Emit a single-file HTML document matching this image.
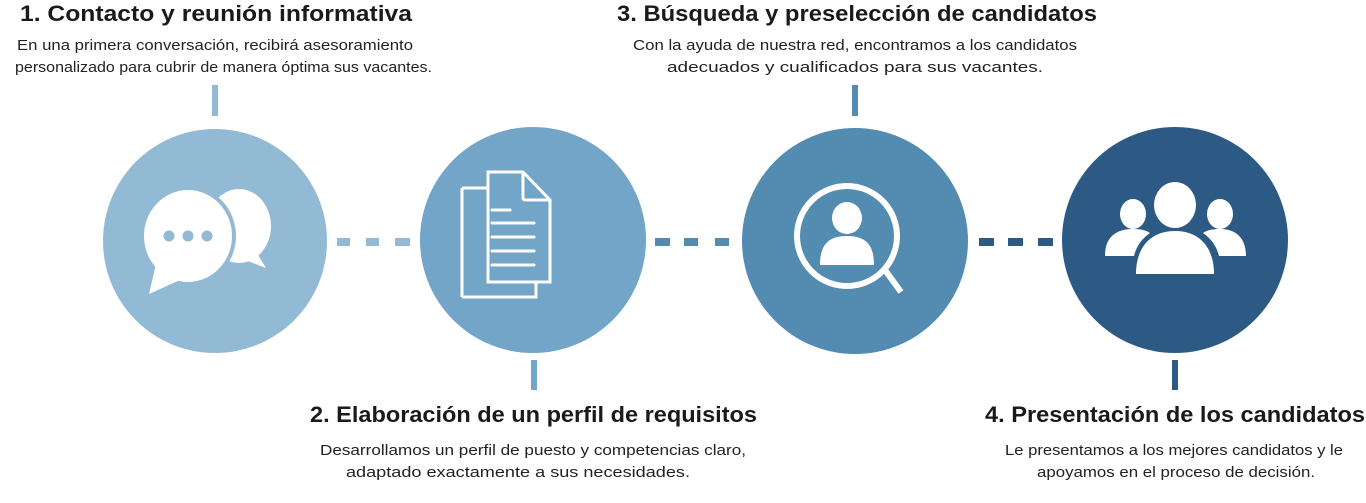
<!DOCTYPE html>
<html><head><meta charset="utf-8"><style>
html,body{margin:0;padding:0;background:#fff;width:1366px;height:503px;overflow:hidden}
svg{display:block}
.t{font-family:"Liberation Sans",sans-serif;font-weight:bold;font-size:22px;fill:#1a1a1a}
.d{font-family:"Liberation Sans",sans-serif;font-size:14.5px;fill:#222}
</style></head><body>
<svg width="1366" height="503" viewBox="0 0 1366 503" xmlns="http://www.w3.org/2000/svg">
<text class="t" x="20" y="21" textLength="392" lengthAdjust="spacingAndGlyphs">1. Contacto y reunión informativa</text>
<text class="d" x="17" y="50" textLength="396" lengthAdjust="spacingAndGlyphs">En una primera conversación, recibirá asesoramiento</text>
<text class="d" x="15" y="72" textLength="417" lengthAdjust="spacingAndGlyphs">personalizado para cubrir de manera óptima sus vacantes.</text>

<text class="t" x="617" y="21" textLength="480" lengthAdjust="spacingAndGlyphs">3. Búsqueda y preselección de candidatos</text>
<text class="d" x="633" y="50" textLength="444" lengthAdjust="spacingAndGlyphs">Con la ayuda de nuestra red, encontramos a los candidatos</text>
<text class="d" x="667" y="72" textLength="376" lengthAdjust="spacingAndGlyphs">adecuados y cualificados para sus vacantes.</text>

<text class="t" x="310" y="422" textLength="447" lengthAdjust="spacingAndGlyphs">2. Elaboración de un perfil de requisitos</text>
<text class="d" x="320" y="455" textLength="426" lengthAdjust="spacingAndGlyphs">Desarrollamos un perfil de puesto y competencias claro,</text>
<text class="d" x="346" y="477" textLength="344" lengthAdjust="spacingAndGlyphs">adaptado exactamente a sus necesidades.</text>

<text class="t" x="985" y="422" textLength="380" lengthAdjust="spacingAndGlyphs">4. Presentación de los candidatos</text>
<text class="d" x="1005" y="455" textLength="338" lengthAdjust="spacingAndGlyphs">Le presentamos a los mejores candidatos y le</text>
<text class="d" x="1037" y="477" textLength="278" lengthAdjust="spacingAndGlyphs">apoyamos en el proceso de decisión.</text>

<rect x="212" y="85" width="6" height="31" fill="#93bad5"/>
<rect x="531" y="360" width="6" height="30" fill="#72a5c7"/>
<rect x="852" y="85" width="6" height="31" fill="#538cb0"/>
<rect x="1172" y="360" width="6" height="30" fill="#2d5a84"/>

<g fill="#93bad5"><rect x="337" y="238" width="13" height="8"/><rect x="366" y="238" width="13" height="8"/><rect x="395" y="238" width="15" height="8"/></g>
<g fill="#538cb0"><rect x="655" y="238" width="15" height="8"/><rect x="684" y="238" width="14" height="8"/><rect x="715" y="238" width="14" height="8"/></g>
<g fill="#2d5a84"><rect x="979" y="238" width="15" height="8"/><rect x="1008" y="238" width="15" height="8"/><rect x="1038" y="238" width="15" height="8"/></g>

<circle cx="215" cy="241" r="112" fill="#93bad5"/>
<circle cx="533" cy="240" r="113" fill="#72a5c7"/>
<circle cx="855" cy="241" r="113" fill="#538cb0"/>
<circle cx="1175" cy="240" r="113" fill="#2d5a84"/>

<!-- chat icon -->
<g fill="#fff">
<ellipse cx="239" cy="226" rx="32" ry="37"/>
<path d="M255 250 L266 268 L240 258 Z"/>
</g>
<ellipse cx="188" cy="236" rx="46" ry="48" fill="#fff" stroke="#93bad5" stroke-width="4"/>
<path d="M157 260 L149 294 L180 280 Z" fill="#fff"/>
<g fill="#93bad5"><circle cx="169" cy="236" r="5.5"/><circle cx="188" cy="236" r="5.5"/><circle cx="207" cy="236" r="5.5"/></g>

<g fill="none" stroke="#fff" stroke-width="3">
<path d="M478 188 L488 188 M488 188 L488 282 L536 282 L536 297 L462 297"/>
<path d="M462 188 L462 297"/>
<path d="M462 188 L478 188"/>
<path d="M488 172 L523 172 L550 200 L550 282 L488 282 Z"/>
<path d="M523 172 L523 198 Q523 200 526 200 L550 200"/>
</g>
<g stroke="#fff" stroke-width="3" stroke-linecap="round">
<line x1="492" y1="210" x2="510" y2="210"/><line x1="492" y1="223" x2="534" y2="223"/><line x1="492" y1="237" x2="534" y2="237"/><line x1="492" y1="251" x2="534" y2="251"/><line x1="492" y1="265" x2="534" y2="265"/>
</g>

<circle cx="847" cy="236" r="50" fill="none" stroke="#fff" stroke-width="6"/>
<line x1="885" y1="270" x2="901" y2="292" stroke="#fff" stroke-width="6"/>
<g fill="#fff"><ellipse cx="847" cy="218" rx="15" ry="16"/><path d="M820 265 C820 245 828 236 847 236 C866 236 874 245 874 265 Z"/></g>

<g fill="#fff">
<ellipse cx="1133" cy="214" rx="13" ry="15"/>
<ellipse cx="1220" cy="214" rx="13" ry="15"/>
<path d="M1105 256 C1105 238 1115 229 1133 229 C1140 229 1146 230 1150 233 C1140 240 1136 248 1134 256 Z"/>
<path d="M1246 256 C1246 238 1236 229 1220 229 C1213 229 1207 230 1203 233 C1213 240 1217 248 1219 256 Z"/>
<ellipse cx="1175" cy="205" rx="21" ry="23"/>
<path d="M1136 274 C1136 248 1150 231 1175 231 C1200 231 1214 248 1214 274 Z"/>
</g>
</svg>
</body></html>
